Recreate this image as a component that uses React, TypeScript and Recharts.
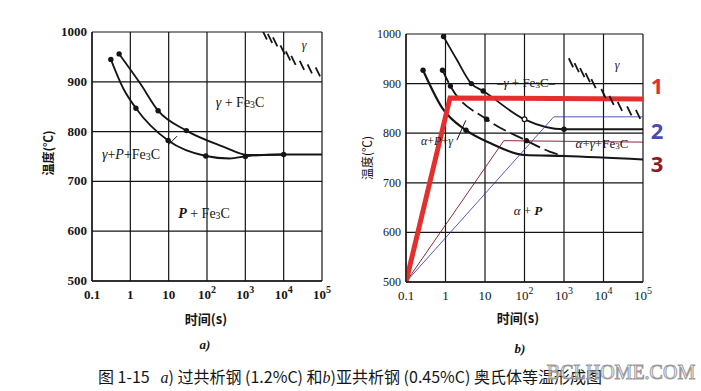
import React from "react";
import {
  CartesianGrid,
  ComposedChart,
  Line,
  ReferenceLine,
  Scatter,
  XAxis,
  YAxis,
} from "recharts";

// axes
const timeTicks = [0.1, 1, 10, 100, 1000, 10000, 100000];
const timeBase = ["0.1", "1", "10", "10", "10", "10", "10"];
const timeExp = ["", "", "", "2", "3", "4", "5"];
const tempTicks = [500, 600, 700, 800, 900, 1000];

// a) 过共析钢 1.2%C
const aStart = [
  { t: 0.31, T: 945 },
  { t: 0.65, T: 887 },
  { t: 1.4, T: 847 },
  { t: 9.7, T: 782 },
  { t: 93, T: 751 },
  { t: 390, T: 746 },
  { t: 1170, T: 751 },
  { t: 10000, T: 754 },
  { t: 100000, T: 754 },
];
const aFinish = [
  { t: 0.51, T: 956 },
  { t: 1.8, T: 897 },
  { t: 5.3, T: 842 },
  { t: 29, T: 802 },
  { t: 263, T: 770 },
  { t: 1170, T: 753 },
  { t: 10000, T: 754 },
];
const aPoints = [
  { t: 0.31, T: 945 },
  { t: 0.51, T: 956 },
  { t: 1.4, T: 847 },
  { t: 5.3, T: 842 },
  { t: 9.7, T: 782 },
  { t: 29, T: 802 },
  { t: 93, T: 751 },
  { t: 1000, T: 750 },
  { t: 10000, T: 754 },
];
const aHatch = [
  { t: 3200, T: 994 },
  { t: 4400, T: 987 },
  { t: 6000, T: 980 },
  { t: 9400, T: 964 },
  { t: 13000, T: 952 },
  { t: 18000, T: 943 },
  { t: 30000, T: 933 },
  { t: 48000, T: 926 },
  { t: 78000, T: 920 },
];
const aLeader = [
  { t: 9.7, T: 773 },
  { t: 16.6, T: 791 },
];

// b) 亚共析钢 0.45%C
const bStart = [
  { t: 0.27, T: 927 },
  { t: 0.84, T: 850 },
  { t: 3.3, T: 806 },
  { t: 13.5, T: 780 },
  { t: 100, T: 756 },
  { t: 1000, T: 754 },
  { t: 100000, T: 747 },
];
const bMid = [
  { t: 0.84, T: 927 },
  { t: 1.33, T: 895 },
  { t: 11, T: 828 },
  { t: 112, T: 785 },
  { t: 430, T: 763 },
  { t: 1000, T: 754 },
];
const bFinish = [
  { t: 0.89, T: 995 },
  { t: 1.94, T: 948 },
  { t: 4.5, T: 900 },
  { t: 9, T: 885 },
  { t: 100, T: 828 },
  { t: 1000, T: 808 },
  { t: 100000, T: 808 },
];
const bPoints = [
  { t: 0.27, T: 927 },
  { t: 3.3, T: 806 },
  { t: 0.84, T: 927 },
  { t: 1.33, T: 895 },
  { t: 11, T: 828 },
  { t: 112, T: 785 },
  { t: 0.89, T: 995 },
  { t: 4.5, T: 900 },
  { t: 9, T: 885 },
  { t: 1000, T: 808 },
];
const bOpenPoints = [{ t: 100, T: 828 }];
const bHatch = [
  { t: 1500, T: 942 },
  { t: 2100, T: 932 },
  { t: 2900, T: 922 },
  { t: 4000, T: 912 },
  { t: 5600, T: 900 },
  { t: 10000, T: 880 },
  { t: 16000, T: 866 },
  { t: 26000, T: 854 },
  { t: 45000, T: 845 },
  { t: 75000, T: 838 },
];
const bLeader = [
  { t: 1.94, T: 786 },
  { t: 3.27, T: 826 },
];

// heating paths drawn over b)
const path1 = [
  { t: 0.1, T: 500 },
  { t: 1.3, T: 871 },
  { t: 100000, T: 869 },
];
const path2 = [
  { t: 0.1, T: 500 },
  { t: 550, T: 833 },
  { t: 100000, T: 833 },
];
const path3 = [
  { t: 0.1, T: 500 },
  { t: 30, T: 785 },
  { t: 100000, T: 782 },
];

const INK = "#151515";
const SERIF = "'Liberation Serif', 'DejaVu Serif', serif";
const CJK = "'Noto Sans CJK SC', sans-serif";

const makeTimeTick = (weight: string) => (props: any) => {
  const { x, y, payload } = props;
  const i = timeTicks.indexOf(payload.value);
  return (
    <text x={x} y={y + 16} textAnchor="middle" fontFamily={SERIF} fontWeight={weight} fontSize={13} fill={INK}>
      {timeBase[i]}
      {timeExp[i] && (
        <tspan dy={-6} fontSize={10}>
          {timeExp[i]}
        </tspan>
      )}
    </text>
  );
};

const makeTempTick = (weight: string, size: number) => (props: any) => {
  const { x, y, payload } = props;
  return (
    <text x={x - 3} y={y + 4} textAnchor="end" fontFamily={SERIF} fontWeight={weight} fontSize={size} fill={INK}>
      {payload.value}
    </text>
  );
};

const Dot = (p: any) => <circle cx={p.cx} cy={p.cy} r={2.7} fill={INK} />;
const OpenDot = (p: any) => <circle cx={p.cx} cy={p.cy} r={2.4} fill="#fff" stroke={INK} strokeWidth={1.2} />;
const Hatch = (p: any) => (
  <line x1={p.cx - 2.2} y1={p.cy - 4.5} x2={p.cx + 2.2} y2={p.cy + 4.5} stroke={INK} strokeWidth={1.8} />
);

const Tag = ({ x, y, size = 14, children, style }: any) => (
  <div
    style={{
      position: "absolute",
      left: x,
      top: y,
      transform: "translate(-50%, -50%)",
      whiteSpace: "nowrap",
      fontFamily: SERIF,
      fontSize: size,
      color: INK,
      lineHeight: 1,
      ...style,
    }}
  >
    {children}
  </div>
);

const Fe3C = () => (
  <span>
    Fe<sub style={{ fontSize: "0.7em", verticalAlign: "-0.15em" }}>3</sub>C
  </span>
);

const G = () => <i>γ</i>;
const A = () => <i>α</i>;

const axisProps = {
  x: {
    dataKey: "t",
    type: "number" as const,
    scale: "log" as const,
    domain: [0.1, 100000],
    ticks: timeTicks,
    allowDataOverflow: true,
    tickSize: 0,
    tickLine: false,
    axisLine: { stroke: INK, strokeWidth: 1.3 },
    height: 30,
    interval: 0 as const,
  },
  y: {
    dataKey: "T",
    type: "number" as const,
    domain: [500, 1000],
    ticks: tempTicks,
    allowDataOverflow: true,
    tickSize: 0,
    tickLine: false,
    axisLine: { stroke: INK, strokeWidth: 1.3 },
    width: 40,
    interval: 0 as const,
  },
};

function ChartA() {
  return (
    <ComposedChart width={350} height={340} margin={{ top: 32, right: 28, bottom: 29, left: 52 }}>
      <CartesianGrid stroke={INK} strokeWidth={1.2} />
      <XAxis {...axisProps.x} tick={makeTimeTick("bold")} />
      <YAxis {...axisProps.y} tick={makeTempTick("bold", 13)} />
      <Line data={aStart} dataKey="T" type="monotone" stroke={INK} strokeWidth={1.8} dot={false} isAnimationActive={false} />
      <Line data={aFinish} dataKey="T" type="monotone" stroke={INK} strokeWidth={1.8} dot={false} isAnimationActive={false} />
      <ReferenceLine segment={[{ x: aLeader[0].t, y: aLeader[0].T }, { x: aLeader[1].t, y: aLeader[1].T }]} stroke={INK} strokeWidth={1} />
      <Scatter data={aPoints} dataKey="T" shape={<Dot />} isAnimationActive={false} />
      <Scatter data={aHatch} dataKey="T" shape={<Hatch />} isAnimationActive={false} />
    </ComposedChart>
  );
}

function ChartB() {
  return (
    <ComposedChart width={351} height={340} margin={{ top: 34, right: 58, bottom: 28, left: 16 }}>
      <CartesianGrid stroke={INK} strokeWidth={1.2} />
      <XAxis {...axisProps.x} tick={makeTimeTick("normal")} />
      <YAxis {...axisProps.y} tick={makeTempTick("normal", 12)} />
      <Line data={bStart} dataKey="T" type="monotone" stroke={INK} strokeWidth={2.2} dot={false} isAnimationActive={false} />
      <Line data={bMid} dataKey="T" type="monotone" stroke={INK} strokeWidth={1.8} strokeDasharray="14 5" dot={false} isAnimationActive={false} />
      <Line data={bFinish} dataKey="T" type="monotone" stroke={INK} strokeWidth={1.8} dot={false} isAnimationActive={false} />
      <ReferenceLine segment={[{ x: bLeader[0].t, y: bLeader[0].T }, { x: bLeader[1].t, y: bLeader[1].T }]} stroke={INK} strokeWidth={1} />
      <Scatter data={bPoints} dataKey="T" shape={<Dot />} isAnimationActive={false} />
      <Scatter data={bOpenPoints} dataKey="T" shape={<OpenDot />} isAnimationActive={false} />
      <Scatter data={bHatch} dataKey="T" shape={<Hatch />} isAnimationActive={false} />
      <Line data={path3} dataKey="T" type="linear" stroke="#7a1426" strokeWidth={0.9} dot={false} isAnimationActive={false} />
      <Line data={path2} dataKey="T" type="linear" stroke="#2e2e9a" strokeWidth={0.8} dot={false} isAnimationActive={false} />
      <Line data={path1} dataKey="T" type="linear" stroke="#e3302f" strokeWidth={5} strokeLinejoin="miter" dot={false} isAnimationActive={false} />
    </ComposedChart>
  );
}

export default function App() {
  return (
    <div style={{ position: "absolute", left: 0, top: 0, width: 701, height: 391, background: "#fff", overflow: "hidden" }}>
      <div style={{ position: "absolute", left: 0, top: 0 }}>
        <ChartA />
      </div>
      <div style={{ position: "absolute", left: 350, top: 0 }}>
        <ChartB />
      </div>

      {/* a) labels */}
      <Tag x={240} y={103}>
        <G /> + <Fe3C />
      </Tag>
      <Tag x={131} y={155}>
        <G />+<i>P</i>+<Fe3C />
      </Tag>
      <Tag x={204} y={214}>
        <b><i>P</i></b> + <Fe3C />
      </Tag>
      <Tag x={304} y={45} size={12}>
        <G />
      </Tag>

      {/* b) labels */}
      <Tag x={526} y={83} size={13}>
        –<G /> + <Fe3C />–
      </Tag>
      <Tag x={617} y={65} size={12}>
        <G />
      </Tag>
      <Tag x={437} y={141} size={12}>
        <A />+<i>P</i>+<G />
      </Tag>
      <Tag x={602} y={144} size={13}>
        <A />+<G />+<Fe3C />
      </Tag>
      <Tag x={528} y={210} size={13}>
        <A /> + <b><i>P</i></b>
      </Tag>

      {/* path numbers */}
      <Tag x={657} y={85} size={22} style={{ fontFamily: "'Noto Sans', sans-serif", fontWeight: 700, color: "#e3302f" }}>
        1
      </Tag>
      <Tag x={657} y={130} size={22} style={{ fontFamily: "'Noto Sans', sans-serif", fontWeight: 700, color: "#4a4ab4" }}>
        2
      </Tag>
      <Tag x={657} y={163} size={22} style={{ fontFamily: "'Noto Sans', sans-serif", fontWeight: 700, color: "#8e1b24" }}>
        3
      </Tag>

      {/* axis titles */}
      <Tag x={48} y={153} size={12} style={{ fontFamily: CJK, fontWeight: 700, transform: "translate(-50%, -50%) rotate(-90deg)" }}>
        温度(℃)
      </Tag>
      <Tag x={367} y={158} size={12} style={{ fontFamily: CJK, transform: "translate(-50%, -50%) rotate(-90deg)" }}>
        温度(℃)
      </Tag>
      <Tag x={206} y={318} size={13} style={{ fontFamily: CJK, fontWeight: 700 }}>
        时间(s)
      </Tag>
      <Tag x={518} y={317} size={13} style={{ fontFamily: CJK, fontWeight: 700 }}>
        时间(s)
      </Tag>
      <Tag x={205} y={344} size={13} style={{ fontWeight: 700, fontStyle: "italic" }}>
        a)
      </Tag>
      <Tag x={520} y={348} size={13} style={{ fontWeight: 700, fontStyle: "italic" }}>
        b)
      </Tag>

      {/* caption */}
      <Tag x={350} y={377} size={16} style={{ fontFamily: CJK }}>
        图 1-15&nbsp;&nbsp;&nbsp;<i style={{ fontFamily: SERIF }}>a</i>) 过共析钢 (1.2%C) 和<i style={{ fontFamily: SERIF }}>b</i>)亚共析钢 (0.45%C) 奥氏体等温形成图
      </Tag>
      <Tag
        x={621}
        y={372}
        size={20}
        style={{ color: "rgba(255,255,255,0.55)", WebkitTextStroke: "1px #9a9a9a" }}
      >
        BCLHOME.COM
      </Tag>
    </div>
  );
}
